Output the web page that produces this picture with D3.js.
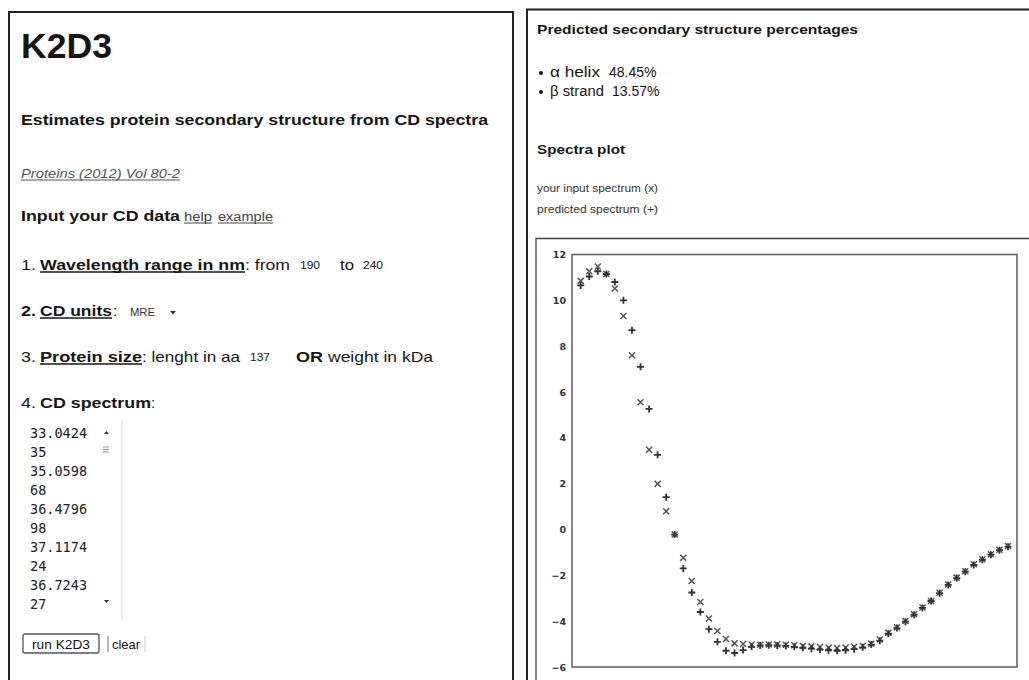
<!DOCTYPE html>
<html><head><meta charset="utf-8">
<script src="https://cdn.jsdelivr.net/npm/d3@7"></script>
<style>
html,body{margin:0;padding:0;background:#fff;}
svg{display:block;font-family:"Liberation Sans",Arial,sans-serif;}
</style></head>
<body>
<svg id="c" width="1029" height="680"></svg>
<script>
// ---- data ----
const wavelengths = d3.range(190, 241); // nm, 1 nm steps
const inputSpectrum = [10.85,11.27,11.48,11.15,10.52,9.32,7.6,5.55,3.48,1.99,0.80,-0.22,-1.23,-2.25,-3.16,-3.88,-4.43,-4.78,-4.97,-5.00,-5.02,-5.03,-5.02,-5.02,-5.03,-5.05,-5.08,-5.10,-5.13,-5.15,-5.17,-5.15,-5.12,-5.08,-4.98,-4.80,-4.50,-4.27,-3.99,-3.70,-3.40,-3.12,-2.76,-2.40,-2.10,-1.82,-1.52,-1.30,-1.08,-0.88,-0.72];
const predictedSpectrum = [10.65,11.04,11.27,11.15,10.80,10.00,8.70,7.10,5.26,3.26,1.41,-0.22,-1.70,-2.75,-3.60,-4.35,-4.90,-5.29,-5.39,-5.26,-5.12,-5.06,-5.05,-5.06,-5.08,-5.12,-5.16,-5.20,-5.24,-5.27,-5.29,-5.27,-5.22,-5.14,-5.02,-4.85,-4.55,-4.30,-4.02,-3.72,-3.42,-3.12,-2.78,-2.42,-2.12,-1.84,-1.55,-1.32,-1.10,-0.90,-0.75];
const yTicks = [12,10,8,6,4,2,0,-2,-4,-6];
const spectrumLines = ["33.0424","35","35.0598","68","36.4796","98","37.1174","24","36.7243","27"];
const structureLabels = ["\u03b1 helix","\u03b2 strand"];
const structureValues = ["48.45%","13.57%"];

const svg = d3.select("#c");
const ink = "#161616";

// ---- panel borders ----
svg.append("path").attr("d","M9,690V12H513V690").attr("fill","none").attr("stroke","#222").attr("stroke-width",2);
svg.append("path").attr("d","M527,690V9.5H1040").attr("fill","none").attr("stroke","#222").attr("stroke-width",2);
svg.append("path").attr("d","M536,690V238.5H1040").attr("fill","none").attr("stroke","#444").attr("stroke-width",1.3);

// text helper: x, baseline y, string, options (w = rendered width)
function t(x,y,s,o={}){
  const e = svg.append("text").attr("x",x).attr("y",y).text(s)
    .attr("font-size",o.size||15).attr("fill",o.fill||ink)
    .attr("font-weight",o.bold?"bold":"normal");
  if(o.italic) e.attr("font-style","italic");
  if(o.family) e.attr("font-family",o.family);
  if(o.anchor) e.attr("text-anchor",o.anchor);
  if(o.w) e.attr("textLength",o.w).attr("lengthAdjust","spacingAndGlyphs");
  if(o.underline){
    svg.append("line").attr("x1",x).attr("x2",x+(o.w||e.node().getComputedTextLength()))
      .attr("y1",y+2).attr("y2",y+2).attr("stroke",o.ulColor||o.fill||ink).attr("stroke-width",o.ulw||1);
  }
  return e;
}
t(21,58,"K2D3",{size:35,bold:true,w:91});
t(21,125,"Estimates protein secondary structure from CD spectra",{size:15,bold:true,w:467});
t(21,178,"Proteins (2012) Vol 80-2",{size:12,italic:true,underline:true,fill:"#555",w:159});
t(21,221,"Input your CD data",{size:15,bold:true,w:159});
t(184,221,"help",{size:12,underline:true,fill:"#444",w:28});
t(218,221,"example",{size:12,underline:true,fill:"#444",w:55});

// 1.
t(21,270,"1.",{size:15,w:15});
t(40,270,"Wavelength range in nm",{size:15,bold:true,underline:true,w:205,ulw:1.5});
t(245,270,": from",{size:15,w:45});
t(300,269,"190",{size:11,w:20});
t(340,270,"to",{size:15,w:14});
t(363,269,"240",{size:11,w:20});
// 2.
t(21,316,"2.",{size:15,bold:true,w:15});
t(40,316,"CD units",{size:15,bold:true,underline:true,w:72,ulw:1.5});
t(113,316,":",{size:15});
t(130,316,"MRE",{size:11,fill:"#333",w:25});
svg.append("path").attr("d","M170,311h6l-3,3.5z").attr("fill","#333");
// 3.
t(21,362,"3.",{size:15,w:15});
t(40,362,"Protein size",{size:15,bold:true,underline:true,w:102,ulw:1.5});
t(142,362,": lenght in aa",{size:15,w:98});
t(250,361,"137",{size:11,w:20});
t(296,362,"OR",{size:15,bold:true,w:27});
t(328,362,"weight in kDa",{size:15,w:105});
// 4.
t(21,408,"4.",{size:15,w:15});
t(40,408,"CD spectrum",{size:15,bold:true,w:111});
t(151,408,":",{size:15});

spectrumLines.forEach((s,i)=>{
  t(30,438+i*19,s,{size:13.5,family:"'DejaVu Sans Mono','Liberation Mono',monospace",fill:"#222",w:s.length*8.15});
});
svg.append("line").attr("x1",122).attr("x2",122).attr("y1",420).attr("y2",620).attr("stroke","#ddd");
svg.append("path").attr("d","M104,434h5l-2.5,-3z").attr("fill","#333");
svg.append("path").attr("d","M104,600h5l-2.5,3z").attr("fill","#333");
svg.append("path").attr("d","M103,447h6M103,449.5h6M103,452h6").attr("stroke","#999");

// buttons
svg.append("rect").attr("x",23).attr("y",634).attr("width",76).attr("height",19).attr("rx",2)
  .attr("fill","#fff").attr("stroke","#555").attr("stroke-width",1.3);
t(32,648.5,"run K2D3",{size:13,w:58});
svg.append("line").attr("x1",108).attr("x2",108).attr("y1",636).attr("y2",652).attr("stroke","#777");
svg.append("line").attr("x1",145).attr("x2",145).attr("y1",636).attr("y2",652).attr("stroke","#ccc");
t(112,648.5,"clear",{size:13,w:28});

// ---- right panel text ----
t(537,34,"Predicted secondary structure percentages",{size:13,bold:true,w:321});
structureLabels.forEach((s,i)=>{
  const y = 77 + i*19;
  svg.append("circle").attr("cx",541).attr("cy",y-4).attr("r",2).attr("fill",ink);
  t(550,y,s,{size:14,w:i?54:50});
  t(i?612:609,y,structureValues[i],{size:14});
});
t(537,154,"Spectra plot",{size:13,bold:true,w:88});
t(537,192,"your input spectrum (x)",{size:10.5,fill:"#333",w:121});
t(537,213,"predicted spectrum (+)",{size:10.5,fill:"#333",w:121});

// ---- chart ----
const x = d3.scaleLinear().domain([190,240]).range([580.7,1008]);
const y = d3.scaleLinear().domain([-6,12]).range([667,254.5]);
const left = 572, right = 1017;

svg.append("rect").attr("x",left).attr("y",y(12)).attr("width",right-left).attr("height",y(-6)-y(12))
  .attr("fill","none").attr("stroke","#666").attr("stroke-width",1.6);

const yAxis = svg.append("g").attr("transform",`translate(${left},0)`)
  .call(d3.axisLeft(y).tickValues(yTicks).tickSize(0).tickPadding(6).tickFormat(d3.format("d")));
yAxis.select(".domain").remove();
yAxis.selectAll("text").attr("font-family","'DejaVu Sans',sans-serif").attr("font-size",9.5)
  .attr("font-weight","bold").attr("fill","#333");

const plus = "M-3.5,0H3.5M0,-3.5V3.5";
const cross = "M-3,-3L3,3M-3,3L3,-3";
svg.append("g").selectAll("path").data(wavelengths).join("path")
  .attr("transform",(d,i)=>`translate(${x(d)},${y(inputSpectrum[i])})`)
  .attr("d",cross).attr("stroke","#555").attr("stroke-width",1.5).attr("fill","none");
svg.append("g").selectAll("path").data(wavelengths).join("path")
  .attr("transform",(d,i)=>`translate(${x(d)},${y(predictedSpectrum[i])})`)
  .attr("d",plus).attr("stroke","#333").attr("stroke-width",1.8).attr("fill","none");
</script>
</body></html>
